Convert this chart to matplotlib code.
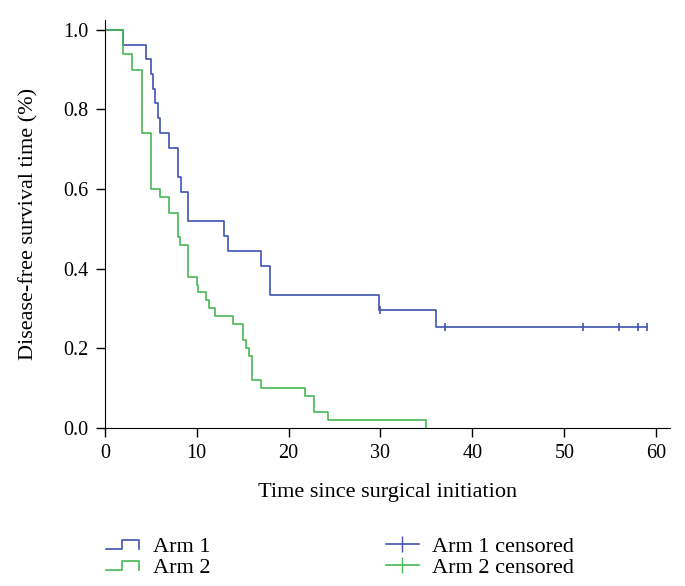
import matplotlib
matplotlib.use('Agg')
import matplotlib.pyplot as plt
from matplotlib.lines import Line2D
from matplotlib.legend_handler import HandlerBase

plt.rcParams['font.family'] = ['Liberation Serif', 'DejaVu Serif']
plt.rc('font', size=16)
plt.rc('xtick', labelsize=14.5)
plt.rc('ytick', labelsize=14.5)

BLUE = '#4053b3'
GREEN = '#45b953'

# Arm 1 (n = 27) step times and survival
arm1_t = [0, 2, 4.5, 5, 5.25, 5.5, 5.75, 6, 7, 8, 8.3, 9, 13, 13.4, 17, 18, 29.8, 36, 59]
arm1_s = [1.0, 0.963, 0.926, 0.889, 0.852, 0.815, 0.778, 0.741, 0.704, 0.630, 0.593,
          0.519, 0.481, 0.444, 0.407, 0.333, 0.296, 0.254, 0.254]
arm1_cens_t = [30, 37, 52, 56, 58, 59]
arm1_cens_s = [0.296, 0.254, 0.254, 0.254, 0.254, 0.254]

# Arm 2 (n = 50)
arm2_t = [0, 2, 3, 4, 5, 6, 7, 8, 8.15, 9, 10, 10.15, 11, 11.3, 12, 14, 15, 15.4,
          15.65, 16, 17, 21.8, 22.8, 24.3, 35]
arm2_s = [1.0, 0.94, 0.90, 0.74, 0.60, 0.58, 0.54, 0.48, 0.46, 0.38, 0.36, 0.34,
          0.32, 0.30, 0.28, 0.26, 0.22, 0.20, 0.18, 0.12, 0.10, 0.08, 0.04, 0.02, 0.0]


class HandlerStep(HandlerBase):
    # little step-shaped icon for the survival curves
    def create_artists(self, legend, orig_handle, xdescent, ydescent,
                       width, height, fontsize, trans):
        x0, x1 = -xdescent, -xdescent + width
        xm = x0 + width * 0.47
        ylo = -ydescent + height * 0.2
        yhi = -ydescent + height * 0.75
        ln = Line2D([x0, xm, xm, x1, x1], [ylo, ylo, yhi, yhi, ylo],
                    color=orig_handle.get_color(), lw=1.2, transform=trans)
        return [ln]


fig = plt.figure(figsize=(6.85, 5.86), dpi=100)
ax = fig.add_axes([0.153, 0.270, 0.825, 0.696])

ax.step(arm1_t, arm1_s, where='post', color=BLUE, lw=1.2)
ax.step(arm2_t, arm2_s, where='post', color=GREEN, lw=1.2)
ax.plot(arm1_cens_t, arm1_cens_s, linestyle='none', marker='|', markersize=6,
        markeredgewidth=1.2, color=BLUE)

ax.set_xlim(0, 61.5)
ax.set_ylim(0, 1.025)
ax.set_xticks(range(0, 61, 10))
ax.set_yticks([0.0, 0.2, 0.4, 0.6, 0.8, 1.0])
ax.set_yticklabels(['0.0', '0.2', '0.4', '0.6', '0.8', '1.0'])
ax.spines['top'].set_visible(False)
ax.spines['right'].set_visible(False)
ax.tick_params(direction='out', length=6.5, width=1, pad=5)
ax.set_xlabel('Time since surgical initiation')
ax.set_ylabel('Disease-free survival time (%)')
ax.xaxis.set_label_coords(0.5, -0.135)
ax.yaxis.set_label_coords(-0.118, 0.5)

h1 = Line2D([], [], color=BLUE)
h2 = Line2D([], [], color=GREEN)
h3 = Line2D([], [], color=BLUE, marker='|', markersize=12, lw=1.2)
h4 = Line2D([], [], color=GREEN, marker='|', markersize=12, lw=1.2)
fig.legend([h1, h2, h3, h4], ['Arm 1', 'Arm 2', 'Arm 1 censored', 'Arm 2 censored'],
           handler_map={h1: HandlerStep(), h2: HandlerStep()},
           ncol=2, loc='lower left', bbox_to_anchor=(0.1255, -0.02), frameon=False,
           columnspacing=7.9, handlelength=1.5, handletextpad=0.6, labelspacing=0.0)

fig.savefig('out.png', dpi=100)
